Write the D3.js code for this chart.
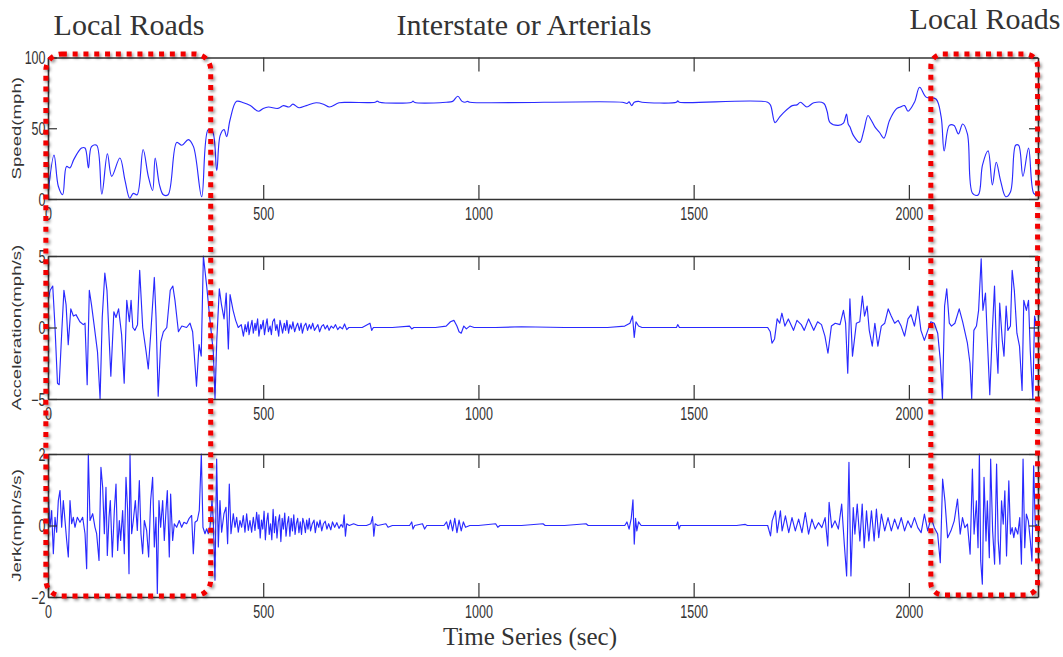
<!DOCTYPE html>
<html>
<head>
<meta charset="utf-8">
<script src="https://cdn.jsdelivr.net/npm/d3@7"></script>
<style>
  html, body { margin: 0; padding: 0; background: #fff; }
  svg { display: block; }
</style>
</head>
<body>
<svg id="chart" width="1063" height="657"></svg>
<script>
// ---- axis ticks and labels ----
const timeTicks = [0, 500, 1000, 1500, 2000];
const speedTicks = [0, 50, 100];
const accelTicks = [-5, 0, 5];
const jerkTicks = [-2, 0, 2];
const axisTitles = ["Speed(mph)", "Acceleration(mph/s)", "Jerk(mph/s/s)"];
const segmentTitles = ["Local Roads", "Interstate or Arterials", "Local Roads"];
const timeTitle = "Time Series (sec)";

// time spans (sec) driven on local roads
const localRoadSpans = [[-5, 378], [2051, 2299]];

// ---- speed trace: [time (s), speed (mph)] ----
const speed = [
  [0,3],[14,31],[24,9],[34,3],[43,23],[51,22],[60,28],[78,36],[86,36],[94,22],[101,37],[113,38],
  [125,3.5],[138,32],[148,16],[167,29],[179,13],[190,0.5],[198,4],[207,3],[221,35],[233,16],[243,6],
  [249,29],[259,10],[268,3],[279,3],[299,40],[311,38],[326,42],[338,37],[357,1.6],[372,49],[382,48],
  [392,20],[400,45],[409,49],[415,44],[423,56],[438,69],[454,68],[470,66],[489,62],[500,64],[512,65],
  [534,64],[547,66],[560,65],[569,67],[583,64.5],[600,66],[623,68],[640,67],[654,65],[676,68],[700,68.3],
  [760,68.4],[765,69.2],[770,68.4],[845,68.4],[848,69.2],[851,68.4],[925,68.4],[940,69],[952,72.6],
  [962,69],[969,68.4],[975,69],[980,68.4],[1334,68.4],[1345,67.5],[1350,68.6],[1356,66],[1362,68.4],
  [1372,69],[1380,68.4],[1460,68.4],[1463,69.3],[1467,68.4],[1672,68.4],[1679,66],[1689,54],[1700,58],
  [1709,61],[1729,66],[1740,66.5],[1748,68.4],[1763,65],[1779,68],[1802,67.7],[1810,62],[1817,54],
  [1836,52],[1848,53.6],[1855,60],[1859,53],[1863,51],[1871,45],[1886,40],[1895,48],[1905,59],[1912,56],
  [1921,51],[1932,47],[1942,43],[1955,55.5],[1971,63.7],[1980,65],[1990,66],[1998,62],[2013,68.4],
  [2025,79],[2040,72],[2063,70.7],[2075,58],[2082,34],[2094,52],[2105,52],[2115,46],[2125,53],[2136,46],
  [2148,4],[2161,2.8],[2171,24],[2184,34],[2194,10],[2203,26],[2213,13],[2225,1.6],[2236,5],[2248,38],
  [2255,38],[2265,16],[2278,36],[2290,4],[2298,2.8]
];

// ---- acceleration trace: [time (s), mph/s] ----
const accel = [
  [0,1.9],[5,2.6],[11,2.9],[16,0.2],[22,-3.9],[26,-4],[32,-0.3],[37,2.6],[42,1.6],[47,-1.2],[53,1.3],
  [59,0.8],[65,0.9],[74,0.4],[82,0.2],[86,0.3],[91,-4],[96,2.6],[101,1.6],[107,0.2],[115,-1.7],[121,-5],
  [126,0.7],[132,3.8],[137,2.6],[146,-3.4],[153,1.1],[158,0.7],[164,1.3],[171,-0.5],[177,-3.9],[183,1.9],
  [189,0.4],[193,1.9],[197,0],[202,-0.2],[208,0.2],[213,4],[220,0],[228,-1.7],[233,-2.9],[239,-0.3],
  [247,3.5],[251,0.7],[256,-4.8],[262,-1],[268,-0.3],[276,0],[284,2.6],[290,2.9],[295,1.9],[303,-0.3],
  [311,0.1],[322,0],[330,0.3],[336,-0.3],[345,-4.1],[351,-1.2],[356,-2],[361,5],[369,2.8],[376,0.6],
  [384,-1.7],[388,-5],[392,-1],[398,2.7],[403,1.6],[409,0.6],[414,2.4],[419,-1.5],[423,2.3],[430,1.2],
  [436,0.5],[442,0],[449,0.2],
  [454,-0.6],[458,0.2],[461,-0.3],[465,0.4],[467,-0.5],[471,0.1],[474,0.5],[477,-0.4],[481,0.3],
  [483,-0.2],[487,0.6],[490,-0.6],[494,0.2],[496,-0.1],[500,0.5],[503,-0.5],[507,0.3],[509,0.6],
  [512,-0.3],[516,0.1],[519,-0.5],[522,0.4],[526,0.6],[529,-0.2],[532,0.2],[536,-0.6],[539,0.5],
  [542,0.1],[545,-0.4],[549,0.3],[552,-0.2],[555,0.5],[559,-0.4],[562,0.2],[566,-0.1],[569,0.4],
  [573,-0.3],[577,0.1],[580,0.3],[584,-0.2],[588,0.3],[591,-0.4],[595,0.1],[599,0.3],[603,-0.2],
  [607,0.2],[611,-0.1],[615,0.3],[619,-0.2],[623,0],[627,0.2],[631,-0.3],[636,0.1],[640,0.2],[644,-0.1],
  [649,0.15],[653,-0.2],[658,0.1],[663,-0.05],[668,0.2],[673,-0.15],[678,0.05],[684,-0.1],[689,0.25],
  [694,-0.15],[699,0],[706,0],[730,0],[748,0.3],[752,-0.2],[756,0],
  [800,0],[840,0.1],[845,-0.1],[850,0],[900,0],[925,0.1],[935,0.4],[943,0.5],[950,0.1],[955,-0.3],
  [960,-0.4],[966,0.1],[972,-0.1],[980,0.1],[990,0],[1040,0],[1100,0.05],[1200,0],[1300,0],[1340,0.1],
  [1352,0.3],[1358,0.8],[1362,-0.7],[1366,0.4],[1372,0.1],[1380,0],[1460,0],[1463,0.2],[1467,0],
  [1672,0],[1678,-0.3],[1682,-1.1],[1688,-0.8],[1694,0.6],[1700,0.3],[1705,1],[1712,0.1],[1720,0.6],
  [1732,-0.2],[1740,0.5],[1750,0.2],[1757,-0.2],[1767,0.6],[1779,-0.2],[1788,0.4],[1797,0.2],
  [1805,-0.6],[1812,-1.8],[1820,0.1],[1829,0.3],[1840,0.2],[1848,1.2],[1853,0.3],[1858,-3.2],[1863,2],
  [1869,-2],[1878,0.3],[1886,0.4],[1892,2.2],[1897,0.8],[1903,1.5],[1908,-0.2],[1915,-1.3],[1921,0.3],
  [1928,-1.3],[1936,0.1],[1944,0.3],[1952,1.3],[1959,0.8],[1967,0.3],[1975,0.5],[1982,0.1],[1990,-0.6],
  [1998,0.6],[2005,0.9],[2013,0.1],[2021,1.5],[2028,-0.2],[2036,-0.9],[2044,-0.2],[2051,0.4],[2059,0.3],
  [2067,-0.4],[2073,-2.3],[2078,-5],[2083,1.5],[2088,2.7],[2094,0.3],[2099,0.1],[2107,0.3],[2117,1.3],
  [2125,0.4],[2136,-1.1],[2142,-2.5],[2146,-5],[2151,-0.2],[2157,0.1],[2162,1.2],[2168,4.8],[2172,1.2],
  [2178,2.4],[2182,-0.6],[2188,-4.7],[2194,-0.2],[2199,2.9],[2203,-1.1],[2207,-3.2],[2211,1.7],
  [2217,-0.9],[2221,-2],[2226,1.5],[2230,-0.2],[2236,0.1],[2240,4],[2245,2.6],[2251,-0.4],[2257,-1.3],
  [2263,-4.4],[2267,1.9],[2273,1.2],[2278,1.9],[2282,-1.6],[2288,-5],[2292,0.8],[2296,0.3]
];

// ---- jerk trace: [time (s), mph/s/s] ----
const jerk = [
  [0.8,0.79],[4.6,-0.05],[8.5,0.42],[12.4,-0.79],[16.3,0.23],[20.1,-0.19],[24,0.7],[27.9,0.98],
  [31.7,-0.05],[35.6,0.7],[39.5,0.14],[43.4,-0.42],[47.2,-0.88],[51.1,0.7],[55,0.05],[58.8,0.23],
  [62.7,-0.05],[68.1,0.23],[74.3,0.09],[80.5,0.23],[86,-0.23],[89.8,-1.21],[93.7,2],[97.6,0.14],
  [103.8,0.33],[109.2,-0.05],[113,-0.23],[118.5,-0.98],[123,1.63],[127,1.07],[130.9,-0.23],[134.7,1.07],
  [137.8,-0.84],[141.7,0.23],[144.8,0.7],[149.4,-0.88],[154.1,0.42],[158,1.16],[161.8,-0.7],[165.7,0.14],
  [168.8,-0.42],[173.4,0.42],[177.3,-0.79],[181.2,1.35],[185,0.42],[188.2,-1.35],[190.5,2],[194.4,-0.23],
  [198.2,0.14],[202.9,0.7],[207.5,-0.14],[212.2,1.26],[216,-0.23],[219.9,-0.79],[223.8,0.14],
  [229.2,-0.14],[233.8,-0.88],[238.5,0.7],[243.1,1.35],[247,-0.6],[250.9,0.23],[254,-1.9],[257.8,0.7],
  [261.7,-0.05],[266.4,0.7],[270.2,-0.42],[274.1,0.42],[277.2,0.98],[281.8,-0.88],[284.9,0.88],
  [289.6,-0.42],[293.4,0.05],[298.9,-0.05],[305,0.14],[310.5,-0.05],[315.9,0.09],[322.1,0.05],
  [327.5,0.19],[333.7,0.28],[337.6,-0.79],[341.5,0.09],[346.9,0.14],[351.5,0.42],[356.2,2],[360,-0.05],
  [364.7,-0.23],[368.6,-0.09],[372.4,-0.23],[376.3,-0.05],[381,0.7],[384,0.14],[387.9,-1.53],[391.8,1.86],
  [395.7,-0.6],[399.5,0.7],[403.4,-0.19],[408.8,0.33],[413.5,0.51],[417.3,-0.51],[421.2,1.16],
  [425.1,-0.23],[430.5,0.33],[434.4,-0.05],[438.3,0.23],[442.1,-0.19],[446,0.14],[449.9,-0.05],
  [453.7,0.28],[457.6,-0.19],[461.5,0.33],[465.4,-0.14],[469.2,0.14],[473.1,-0.19],[477,0.23],
  [480.9,-0.14],[484.7,0.37],[488.6,-0.09],
  [490,0.3],[493,-0.35],[496,0.15],[499,-0.1],[502,0.4],[505,-0.4],[508,0.1],[511,0.35],[514,-0.25],
  [517,0.05],[520,-0.4],[523,0.45],[526,-0.2],[529,0.25],[532,-0.35],[535,0.1],[538,0.3],[541,-0.45],
  [544,0.2],[547,-0.1],[550,0.35],[553,-0.3],[556,0.05],[559,0.25],[562,-0.3],[565,0.2],[568,-0.15],
  [571,0.3],[574,-0.25],[577,0.05],[580,0.2],[583,-0.2],[586,0.1],[589,-0.25],[592,0.2],[595,0.05],
  [598,-0.2],[601,0.15],[604,-0.1],[607,0.2],[610,-0.15],[614,0.05],[618,0.15],[621,-0.2],[625,0.1],
  [629,-0.05],[632,0.15],[636,-0.15],[640,0.05],[644,0.12],[648,-0.1],[652,0.05],[657,-0.12],[661,0.1],
  [666,-0.05],[671,0.08],[676,-0.08],[681,0.03],[685,-0.05],[688,0.3],[691,-0.3],[694,0.05],[700,0],
  [710,0.05],[720,0],[740,0],
  [750,0.05],[754,0.25],[757,-0.3],[760,0.05],[766,0],[785,0.05],[790,-0.05],[800,0],[840,0],[845,0.1],
  [848,-0.1],[852,0],[870,0.05],[875,-0.1],[880,0],[920,0],[926,0.1],[930,-0.1],[935,0.15],[940,-0.15],
  [945,0.2],[950,-0.2],[955,0.15],[960,-0.15],[965,0.1],[970,-0.05],[980,0],[1000,0],[1040,0.05],
  [1045,-0.05],[1050,0],[1100,0],[1150,0.05],[1155,0],[1200,0],[1250,0.05],[1255,0],[1300,0],[1340,0],
  [1345,0.1],[1350,-0.1],[1355,0.2],[1359,0.72],[1362,-0.52],[1365,0.2],[1368,-0.15],[1372,0.1],
  [1378,0],[1460,0],[1463,0.1],[1466,-0.1],[1469,0],[1600,0],[1620,0.03],[1625,0],[1672,0],
  [1678.6,-0.29],[1682.4,0.13],[1690,0.41],[1694,-0.2],[1701.6,0.41],[1705.5,-0.15],[1713.2,0.27],
  [1720.9,-0.2],[1728.5,0.22],[1736.2,-0.15],[1743.9,0.18],[1751.6,-0.2],[1759.3,0.36],[1767,-0.24],
  [1774.7,0.18],[1782.4,-0.1],[1790,0.08],[1797.8,-0.06],[1805.4,0.22],[1811.6,-0.57],[1814.7,0.65],
  [1820.8,-0.06],[1828.5,0.13],[1836.2,-0.1],[1843.9,0.6],[1850,-0.52],[1855.4,-1.41],[1860.8,1.77],
  [1865.4,-1.41],[1870.8,0.5],[1874.6,-0.24],[1880,0.6],[1886.2,-0.43],[1891.6,0.6],[1896.2,-0.62],
  [1901.6,0.41],[1907,-0.43],[1913.1,0.41],[1919.3,-0.43],[1924.6,0.46],[1930,-0.34],[1936.2,0.32],
  [1943.9,-0.15],[1951.6,0.22],[1959.2,-0.15],[1966.9,0.18],[1974.6,-0.1],[1982.3,0.22],[1990,-0.15],
  [1997.7,0.13],[2005.4,-0.06],[2013,0.22],[2020.8,-0.06],[2028.5,-0.2],[2036.1,0.32],[2043.8,-0.15],
  [2051.5,0.22],[2059.2,-0.06],[2066.9,-0.24],[2073,-1.04],[2078.4,1.3],[2083.8,0.69],[2090,-0.34],
  [2097.7,-0.15],[2105.4,0.13],[2113,0.74],[2119.2,-0.24],[2124.6,0.22],[2130,-0.06],[2136.1,0.04],
  [2142.3,-0.8],[2147.6,1.58],[2151.5,-0.24],[2156.9,0.69],[2160.7,-0.62],[2163.8,2],[2166.9,-0.99],
  [2170.7,-1.64],[2174.6,1.35],[2179.2,-0.43],[2182.3,0.69],[2186.9,-0.9],[2190,1.86],[2194.6,-0.15],
  [2199.2,-1.08],[2203.8,1.72],[2207.6,-0.43],[2211.5,-1.08],[2215.3,0.69],[2219.2,0.04],[2223,0.97],
  [2226.9,-0.85],[2232.2,1.25],[2236,-0.24],[2239.9,-0.06],[2243.8,-0.34],[2247.6,-0.06],[2253,-0.24],
  [2257.6,0.22],[2261.5,-1.08],[2265.3,1.86],[2269.2,-0.62],[2273,0.32],[2277.6,0.13],[2282.2,-0.43],
  [2286,-0.99],[2289.9,1.67],[2293.8,-0.06],[2297.6,0.04]
];

// ---- layout ----
const svg = d3.select("#chart");
const defs = svg.append("defs");
const STRETCH = 1.42;           // tall, narrow figure lettering
const axisColor = "#333";
const lineColor = "#2a2aff";
const sansFont = "'Liberation Sans', Arial, Helvetica, sans-serif";
const serifFont = "'Liberation Serif', 'Times New Roman', serif";
const intFormat = d3.format("d");

const x = d3.scaleLinear().domain([0, 2300]).range([48, 1038]);

const panels = [
  { data: speed, domain: [0, 100], ticks: speedTicks, title: axisTitles[0], top: 57.5, bottom: 199,
    curve: d3.curveCatmullRom.alpha(0.5) },
  { data: accel, domain: [-5, 5],  ticks: accelTicks, title: axisTitles[1], top: 256,  bottom: 399,
    curve: d3.curveLinear },
  { data: jerk,  domain: [-2, 2],  ticks: jerkTicks,  title: axisTitles[2], top: 454,  bottom: 597,
    curve: d3.curveLinear }
];

// drop shadow under the dotted highlight boxes
defs.append("filter")
  .attr("id", "boxShadow")
  .attr("x", "-20%").attr("y", "-5%").attr("width", "140%").attr("height", "110%")
  .append("feDropShadow")
  .attr("dx", 1.6).attr("dy", 1.8).attr("stdDeviation", 1.5)
  .attr("flood-color", "#000").attr("flood-opacity", 0.45);

panels.forEach((p, i) => {
  const y = d3.scaleLinear().domain(p.domain).range([p.bottom, p.top]);
  const g = svg.append("g").attr("class", "panel");

  defs.append("clipPath").attr("id", "plotClip" + i)
    .append("rect")
    .attr("x", x.range()[0]).attr("y", p.top - 1)
    .attr("width", x.range()[1] - x.range()[0]).attr("height", p.bottom - p.top + 2);

  // trace
  g.append("path")
    .datum(p.data)
    .attr("clip-path", `url(#plotClip${i})`)
    .attr("fill", "none")
    .attr("stroke", lineColor)
    .attr("stroke-width", 1.15)
    .attr("stroke-linejoin", "round")
    .attr("d", d3.line().curve(p.curve).x(d => x(d[0])).y(d => y(d[1])));

  // boxed axes with inward ticks on all four sides
  const bottomAxis = g.append("g")
    .attr("transform", `translate(0,${p.bottom})`)
    .call(d3.axisBottom(x).tickValues(timeTicks).tickFormat(intFormat)
      .tickSizeInner(-14).tickSizeOuter(0).tickPadding(0));
  g.append("g")
    .attr("transform", `translate(0,${p.top})`)
    .call(d3.axisTop(x).tickValues(timeTicks).tickSizeInner(-14).tickSizeOuter(0).tickFormat(""));
  const leftAxis = g.append("g")
    .attr("transform", `translate(${x.range()[0]},0)`)
    .call(d3.axisLeft(y).tickValues(p.ticks).tickFormat(intFormat)
      .tickSizeInner(-9).tickSizeOuter(0).tickPadding(3));
  g.append("g")
    .attr("transform", `translate(${x.range()[1]},0)`)
    .call(d3.axisRight(y).tickValues(p.ticks).tickSizeInner(-9).tickSizeOuter(0).tickFormat(""));

  g.selectAll(".domain").attr("stroke", axisColor).attr("stroke-width", 1.6);
  g.selectAll(".tick line").attr("stroke", axisColor).attr("stroke-width", 1.2);

  bottomAxis.selectAll(".tick text")
    .attr("y", 0).attr("dy", "0.36em")
    .attr("transform", `translate(0,14.5) scale(1,${STRETCH})`);
  leftAxis.selectAll(".tick text")
    .attr("x", -2.5).attr("dy", "0.36em")
    .attr("transform", `scale(1,${STRETCH})`);
  g.selectAll(".tick text")
    .attr("fill", axisColor)
    .style("font-family", sansFont)
    .style("font-size", "12.5px");

  // axis title
  svg.append("text")
    .attr("transform", `translate(16,${(p.top + p.bottom) / 2}) scale(1,1.38) rotate(-90)`)
    .attr("text-anchor", "middle")
    .attr("dy", "0.35em")
    .attr("fill", axisColor)
    .style("font-family", sansFont)
    .style("font-size", "13.5px")
    .text(p.title);
});

// segment headings
const headings = [
  { text: segmentTitles[0], cx: 129, base: 35 },
  { text: segmentTitles[1], cx: 524, base: 35 },
  { text: segmentTitles[2], cx: 985, base: 29 }
];
svg.selectAll("text.heading")
  .data(headings)
  .join("text")
  .attr("class", "heading")
  .attr("x", d => d.cx)
  .attr("y", d => d.base)
  .attr("text-anchor", "middle")
  .attr("fill", "#333")
  .style("font-family", serifFont)
  .style("font-size", "30px")
  .text(d => d.text);

// x axis title
svg.append("text")
  .attr("x", 530).attr("y", 645)
  .attr("text-anchor", "middle")
  .attr("fill", "#333")
  .style("font-family", serifFont)
  .style("font-size", "25px")
  .text(timeTitle);

// dotted red boxes around the local-road stretches
const boxes = [
  { span: localRoadSpans[0], top: 54, bottom: 596, r: 16 },
  { span: localRoadSpans[1], top: 54, bottom: 595, r: 12 }
];
svg.selectAll("rect.localBox")
  .data(boxes)
  .join("rect")
  .attr("class", "localBox")
  .attr("x", d => x(d.span[0]))
  .attr("y", d => d.top)
  .attr("width", d => x(d.span[1]) - x(d.span[0]))
  .attr("height", d => d.bottom - d.top)
  .attr("rx", d => d.r).attr("ry", d => d.r)
  .attr("fill", "none")
  .attr("stroke", "#f20000")
  .attr("stroke-width", 5)
  .attr("stroke-dasharray", "5,5.8")
  .attr("filter", "url(#boxShadow)");
</script>
</body>
</html>
